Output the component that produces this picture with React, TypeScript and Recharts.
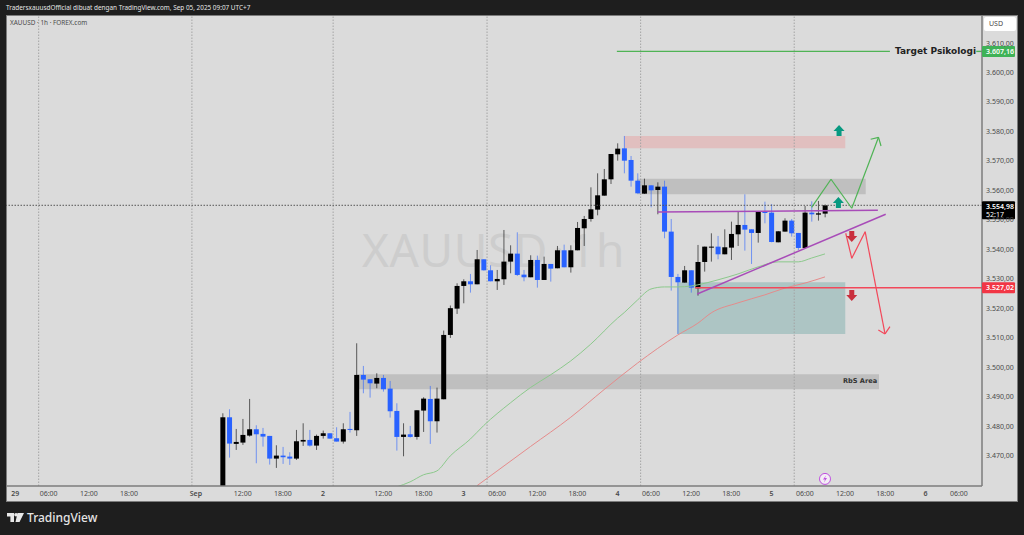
import { ComposedChart, Bar, Line, XAxis, YAxis, ReferenceArea, ReferenceLine, ReferenceDot } from 'recharts';

// ── Colours ───────────────────────────────────────────────────────────────────
const PAGE_BG = '#1e1e1e';
const PANEL_BG = '#dbdbdb';
const BORDER = '#7c7c7c';
const UP = '#000000';
const DOWN = '#2962ff';
const TEXT = '#4a4a4a';
const FONT = '"Noto Sans", sans-serif';
const GREEN = '#4fb355';
const RED = '#f2485a';
const PURPLE = '#a84cb8';
const TEAL_ARROW = '#089981';
const RED_ARROW = '#c9303e';

// ── Candles, one hourly bar per slot ──────────────────────────────────────────
const opens = [
  3452, 3483.1, 3474.07, 3474.52, 3476.89, 3479.04, 3477.46, 3476.78, 3469.09, 3470.11,
  3469.77, 3469.09, 3474.86, 3475.42, 3473.5, 3476.78, 3477.68, 3475.99, 3474.86, 3479.15,
  3478.7, 3497.46, 3495.99, 3494.52, 3496.44, 3492.82, 3485.25, 3476.44, 3477.34, 3476.44,
  3485.37, 3489.32, 3481.75, 3489.21, 3511.02, 3519.94, 3527.63, 3529.21, 3528.19, 3536.67,
  3532.94, 3529.21, 3529.89, 3535.88, 3538.59, 3531.47, 3530.57, 3536.44, 3529.66, 3535.09,
  3533.62, 3539.72, 3533.96, 3539.72, 3547.18, 3550.34, 3553.5, 3558.25, 3563.79, 3572.26,
  3574.29, 3570.34, 3563.33, 3558.93, 3561.75, 3560.17, 3561.3, 3546.05, 3530.68, 3528.76,
  3532.94, 3526.84, 3535.76, 3540.74, 3540.96, 3538.36, 3540.62, 3545.14, 3548.31, 3546.84,
  3545.6, 3552.83, 3552.49, 3542.43, 3546.05, 3549.78, 3545.6, 3540.51, 3552.49, 3551.81,
  3552.15,
];
const highs = [
  3484.46, 3485.82, 3479.15, 3482.54, 3489.32, 3480.39, 3479.49, 3476.78, 3473.61, 3473.05,
  3471.24, 3478.81, 3481.07, 3478.81, 3477.23, 3478.59, 3477.68, 3479.72, 3481.07, 3484.91,
  3508.19, 3500.51, 3495.99, 3498.02, 3497.46, 3495.42, 3487.85, 3481.07, 3480.17, 3485.48,
  3489.88, 3493.73, 3493.16, 3512.5, 3521, 3528.53, 3529.89, 3531.7, 3539.83, 3536.67,
  3534.63, 3533.05, 3546.61, 3541.41, 3545.82, 3533.05, 3538.03, 3537.91, 3537.57, 3535.09,
  3541.19, 3541.64, 3541.41, 3549.32, 3551.36, 3561.07, 3565.82, 3567.29, 3572.37, 3575.99,
  3578.48, 3571.7, 3565.82, 3564.01, 3561.75, 3562.77, 3563.33, 3550.34, 3531.7, 3534.41,
  3532.94, 3541.53, 3540.96, 3545.48, 3544.58, 3546.84, 3549.44, 3552.83, 3558.7, 3546.84,
  3553.05, 3556.2, 3555.42, 3546.27, 3550.57, 3550.34, 3545.6, 3554.75, 3556.33, 3556.44,
  3555.2,
];
const lows = [
  3450, 3469.43, 3472.03, 3473.73, 3476.55, 3467.51, 3473.16, 3467.06, 3465.93, 3467.29,
  3466.95, 3468.64, 3473.39, 3473.16, 3472.03, 3475.87, 3475.87, 3474.86, 3474.18, 3477.91,
  3476.78, 3491.24, 3489.77, 3492.94, 3491.8, 3483, 3471.8, 3469.88, 3476.21, 3475.53,
  3478.13, 3474.07, 3477.91, 3489.2, 3510, 3518.14, 3521.75, 3525.37, 3528.19, 3532.83,
  3529.21, 3526.27, 3527.97, 3531.92, 3531.02, 3529.21, 3530.57, 3527.06, 3529.66, 3529.1,
  3533.62, 3533.96, 3532.15, 3539.72, 3541.19, 3549.44, 3551.58, 3558.25, 3562.2, 3570.11,
  3565.82, 3561.3, 3559.04, 3558.81, 3554.3, 3551.92, 3543.79, 3526.05, 3511.36, 3528.76,
  3525.37, 3524.35, 3532.49, 3535.88, 3536.67, 3538.36, 3536.44, 3541.19, 3539.61, 3535.09,
  3542.32, 3548.87, 3542.43, 3542.43, 3546.05, 3544.35, 3539.83, 3540.4, 3549.44, 3549.78,
  3550.9,
];
const closes = [
  3483.1, 3474.18, 3474.74, 3477.12, 3479.04, 3477.34, 3476.55, 3469.09, 3470.11, 3469.55,
  3469.09, 3474.97, 3475.42, 3473.5, 3476.78, 3477.68, 3475.87, 3474.86, 3479.04, 3478.81,
  3497.46, 3495.87, 3494.63, 3496.44, 3492.6, 3485.14, 3476.44, 3477.23, 3476.44, 3485.48,
  3489.43, 3481.75, 3489.43, 3511.02, 3520.1, 3527.63, 3529.21, 3528.19, 3536.67, 3532.94,
  3529.21, 3530, 3535.88, 3538.59, 3531.36, 3530.57, 3536.44, 3529.66, 3535.09, 3533.5,
  3539.72, 3533.96, 3539.72, 3547.29, 3550.34, 3553.62, 3558.36, 3563.79, 3572.37, 3574.18,
  3570.11, 3563.33, 3559.04, 3561.75, 3560.06, 3561.3, 3546.05, 3530.68, 3528.87, 3532.94,
  3527.06, 3535.76, 3540.96, 3540.96, 3538.36, 3540.74, 3545.26, 3548.31, 3546.73, 3545.6,
  3552.83, 3552.37, 3542.54, 3546.16, 3549.78, 3545.48, 3540.51, 3552.49, 3551.92, 3552.26,
  3554.98,
];

// Moving averages, [bar, price]
const fastMa = [
  [26, 3459.5], [28, 3461.2], [30, 3463.6], [32, 3464.9], [34, 3470], [37, 3475.7], [39, 3480.3],
  [43, 3488], [46, 3493.2], [49, 3497.5], [52, 3502.2], [55, 3507.9], [59, 3516.7], [60, 3518.6],
  [62, 3522.9], [64, 3526.6], [66, 3527.3], [68, 3527.3], [70, 3527.6], [71, 3528], [74, 3529.7],
  [77, 3531.7], [80, 3534.1], [83, 3535.8], [86, 3535.8], [88, 3537.1], [90, 3538.5],
];
const slowMa = [
  [38, 3459.9], [46, 3473.2], [52, 3483.1], [57, 3492.5], [62, 3501.5], [68, 3511], [71, 3515],
  [73, 3518.5], [77, 3521.9], [81, 3524.6], [84, 3526.9], [87, 3528.6], [90, 3530.7],
];

const LAST_PRICE = 3554.98;
const RED_LEVEL = 3527.02;
const TARGET = 3607.16;

// ── Axes ──────────────────────────────────────────────────────────────────────
const X_DOMAIN = [-32.38, 113.46];
const Y_DOMAIN = [3459.8, 3619.5];
const priceTicks = [3470, 3480, 3490, 3500, 3510, 3520, 3530, 3540, 3550, 3560, 3570, 3580, 3590, 3600, 3610];
const timeBars = [-31, -26, -20, -14, -4, 3, 9, 15, 24, 30, 36, 41, 47, 53, 59, 64, 70, 76, 82, 87, 93, 99, 105, 110];
const timeLabels = ['29', '06:00', '12:00', '18:00', 'Sep', '12:00', '18:00', '2', '12:00', '18:00', '3', '06:00', '12:00', '18:00', '4', '06:00', '12:00', '18:00', '5', '06:00', '12:00', '18:00', '6', '06:00'];
const gridBars = [-27.5, -4.6, 16.5, 39.5, 62.45, 85.4];

// ── Drawings, in [bar, price] ─────────────────────────────────────────────────
const zones = [
  { x1: 60.04, x2: 93.03, y1: 3574.3, y2: 3578.47, fill: '#e8a3a3', opacity: 0.5 },
  { x1: 61.9, x2: 96.08, y1: 3558.7, y2: 3564, fill: '#a8a8a8', opacity: 0.55 },
  { x1: 67.93, x2: 93.03, y1: 3511.36, y2: 3528.88, fill: '#7fb0ae', opacity: 0.5 },
  { x1: 20.07, x2: 98.07, y1: 3492.6, y2: 3497.7, fill: '#a8a8a8', opacity: 0.55 },
];
const greenPath = [[88, 3554.3], [90.9, 3563.8], [94, 3553.97], [98, 3578.03]];
const greenHead = [[96.83, 3577.36], [98, 3578.03], [98.37, 3575.08]];
const redPath = [[93.1, 3545.5], [94, 3537], [96, 3546.03], [98.97, 3511.36]];
const redHead = [[97.97, 3512.7], [98.97, 3511.36], [99.7, 3513.83]];
const purpleFlat = [[65, 3552.71], [97.9, 3553.29]];
const purpleRise = [[70.9, 3524.9], [99.07, 3551.93]];
const targetLine = [[58.9, TARGET], [99.7, TARGET]];
const targetStub = [[112.6, TARGET], [113.46, TARGET]];
const redLevelLine = [[70.6, RED_LEVEL], [113.46, RED_LEVEL]];
const upArrows = [[92.1, 3580.17], [92, 3555.76]];
const downArrows = [[94, 3544.58], [94, 3524.58]];

const table = opens.map((open, bar) => ({
  bar,
  open,
  high: highs[bar],
  low: lows[bar],
  close: closes[bar],
  range: [lows[bar], highs[bar]],
  fast: fastMa.find((p) => p[0] === bar)?.[1] ?? null,
  slow: slowMa.find((p) => p[0] === bar)?.[1] ?? null,
}));

const priceLabel = (v: number) =>
  v.toFixed(2).replace('.', ',').replace(/^(\d)(\d{3})/, '$1.$2');

function Candle(props: any) {
  const { x, y, width, height, payload } = props;
  const { open, close, high, low } = payload;
  const k = Math.abs(height) / (high - low);
  const top = y + (high - Math.max(open, close)) * k;
  const bottom = y + (high - Math.min(open, close)) * k;
  const color = close >= open ? UP : DOWN;
  const mid = x + width / 2;
  return (
    <g>
      <line x1={mid} x2={mid} y1={y} y2={y + Math.abs(height)} stroke={color} strokeOpacity={0.6} />
      <rect x={x} y={top} width={width} height={Math.max(bottom - top, 1)} fill={color} />
    </g>
  );
}

function ArrowMark({ cx, cy, up, color }: any) {
  const d = up ? -1 : 1;
  const points = [
    [cx - 2.5, cy - 5 * d], [cx + 2.5, cy - 5 * d], [cx + 2.5, cy],
    [cx + 5.5, cy], [cx, cy + 6 * d], [cx - 5.5, cy], [cx - 2.5, cy],
  ];
  return <polygon points={points.map((p) => p.join(',')).join(' ')} fill={color} />;
}

function PriceTag({ cx, cy, color, text, sub }: any) {
  const h = sub ? 18 : 11;
  const top = sub ? cy - 4 : cy - 5.5;
  return (
    <g fontFamily={FONT} fontSize={7} fill="#fff" fontWeight={600}>
      <rect x={cx} y={top} width={33} height={h} fill={color} rx={1} />
      <text x={cx + 4} y={top + 8}>{text}</text>
      {sub && <text x={cx + 4} y={top + 15.5} fontWeight={400}>{sub}</text>}
    </g>
  );
}

function BoltBadge({ cx, cy }: any) {
  return (
    <g>
      <circle cx={cx} cy={cy} r={5.5} fill="#f4eef6" stroke="#c050e0" />
      <path d={`M${cx + 1} ${cy - 3.5}L${cx - 2} ${cy + 0.5}H${cx}L${cx - 1} ${cy + 3.5}L${cx + 2} ${cy - 1}H${cx}Z`} fill="#c050e0" />
    </g>
  );
}

function TimeTick({ x, y, payload }: any) {
  const label = timeLabels[timeBars.indexOf(payload.value)];
  const bold = !label.includes(':');
  return (
    <text x={x} y={y + 8} textAnchor="middle" fontFamily={FONT} fontSize={7} fill={TEXT} fontWeight={bold ? 600 : 400}>
      {label}
    </text>
  );
}

// ReferenceLine has to be a direct child of the chart, so paths are spread as arrays
const segments = (pts: number[][], color: string, width: number, key: string) =>
  pts.slice(1).map((p, i) => (
    <ReferenceLine
      key={`${key}-${i}`}
      segment={[{ x: pts[i][0], y: pts[i][1] }, { x: p[0], y: p[1] }]}
      stroke={color}
      strokeWidth={width}
      ifOverflow="visible"
    />
  ));

export default function App() {
  return (
    <div style={{ position: 'absolute', left: 0, top: 0, width: 1024, height: 535, background: PAGE_BG, overflow: 'hidden', fontFamily: FONT }}>
      <div style={{ position: 'absolute', left: 6, top: 3, fontSize: 6.4, color: '#e6e6e6', whiteSpace: 'nowrap' }}>
        TradersxauusdOfficial dibuat dengan TradingView.com, Sep 05, 2025 09:07 UTC+7
      </div>
      <div style={{ position: 'absolute', left: 6, top: 15, width: 1012, height: 487, boxSizing: 'border-box', background: PANEL_BG, border: `1px solid ${BORDER}` }} />
      <div style={{ position: 'absolute', left: 10, top: 18, fontSize: 6.4, color: TEXT, whiteSpace: 'nowrap' }}>
        XAUUSD · 1h · FOREX.com
      </div>
      <div style={{ position: 'absolute', left: 362, top: 219, fontSize: 46, lineHeight: '60px', letterSpacing: 0.6, wordSpacing: -8.5, color: '#cdcdcd', whiteSpace: 'nowrap' }}>
        XAUUSD · 1h
      </div>

      <div style={{ position: 'absolute', left: 0, top: 0 }}>
        <ComposedChart
          width={1024}
          height={535}
          data={table}
          margin={{ top: 15, right: 6, bottom: 34, left: 6 }}
        >
          <XAxis
            dataKey="bar"
            type="number"
            domain={X_DOMAIN}
            allowDataOverflow
            ticks={timeBars}
            interval={0}
            height={15}
            tickLine={false}
            tickSize={0}
            axisLine={{ stroke: BORDER, strokeWidth: 1.5 }}
            tick={<TimeTick />}
          />
          <YAxis
            orientation="right"
            domain={Y_DOMAIN}
            allowDataOverflow
            ticks={priceTicks}
            interval={0}
            width={36}
            tickLine={false}
            tickSize={0}
            tickMargin={4}
            axisLine={{ stroke: BORDER, strokeWidth: 1.5 }}
            tick={{ fontSize: 7, fontFamily: FONT, fill: TEXT }}
            tickFormatter={priceLabel}
          />

          {gridBars.map((g) => (
            <ReferenceLine key={g} x={g} stroke="#a4a4a4" strokeDasharray="1.5 1.5" />
          ))}
          {zones.map((z) => (
            <ReferenceArea key={z.x1} x1={z.x1} x2={z.x2} y1={z.y1} y2={z.y2} fill={z.fill} fillOpacity={z.opacity} stroke="none" />
          ))}

          <Bar dataKey="range" barSize={5} shape={<Candle />} isAnimationActive={false} />
          <Line type="monotone" dataKey="fast" stroke="#8cc98c" strokeWidth={1} dot={false} connectNulls isAnimationActive={false} />
          <Line type="monotone" dataKey="slow" stroke="#e58b8b" strokeWidth={1} dot={false} connectNulls isAnimationActive={false} />

          <ReferenceLine y={LAST_PRICE} stroke="#555" strokeDasharray="1.5 1.5" />
          {segments(targetLine, GREEN, 1.4, 'target')}
          {segments(targetStub, GREEN, 1.4, 'stub')}
          {segments(greenPath, GREEN, 1.2, 'green')}
          {segments(greenHead, GREEN, 1.2, 'greenHead')}
          {segments(redPath, RED, 1.2, 'red')}
          {segments(redHead, RED, 1.2, 'redHead')}
          {segments(redLevelLine, RED, 1.5, 'level')}
          {segments(purpleFlat, PURPLE, 1.5, 'flat')}
          {segments(purpleRise, PURPLE, 1.5, 'rise')}

          {upArrows.map((a) => (
            <ReferenceDot key={a[1]} x={a[0]} y={a[1]} ifOverflow="visible" shape={(p: any) => <ArrowMark {...p} up color={TEAL_ARROW} />} />
          ))}
          {downArrows.map((a) => (
            <ReferenceDot key={a[1]} x={a[0]} y={a[1]} ifOverflow="visible" shape={(p: any) => <ArrowMark {...p} color={RED_ARROW} />} />
          ))}
          <ReferenceDot x={90} y={3462.2} ifOverflow="visible" shape={(p: any) => <BoltBadge {...p} />} />

          <ReferenceDot x={X_DOMAIN[1]} y={TARGET} ifOverflow="visible" shape={(p: any) => <PriceTag {...p} color="#3fb257" text={priceLabel(TARGET)} />} />
          <ReferenceDot x={X_DOMAIN[1]} y={RED_LEVEL} ifOverflow="visible" shape={(p: any) => <PriceTag {...p} color="#f23645" text={priceLabel(RED_LEVEL)} />} />
          <ReferenceDot x={X_DOMAIN[1]} y={LAST_PRICE} ifOverflow="visible" shape={(p: any) => <PriceTag {...p} color="#000" text={priceLabel(LAST_PRICE)} sub="52:17" />} />
        </ComposedChart>
      </div>

      <div style={{ position: 'absolute', left: 895, top: 45, fontFamily: '"DejaVu Sans", sans-serif', fontWeight: 700, fontSize: 9, lineHeight: '13px', color: '#222', whiteSpace: 'nowrap' }}>
        Target Psikologi
      </div>
      <div style={{ position: 'absolute', left: 843, top: 376, fontFamily: '"DejaVu Sans", sans-serif', fontWeight: 700, fontSize: 6.6, lineHeight: '10px', color: '#333', whiteSpace: 'nowrap' }}>
        RbS Area
      </div>
      <div style={{ position: 'absolute', left: 984, top: 17, width: 32, height: 14, background: '#fff', borderRadius: 2, fontSize: 7, lineHeight: '14px', color: TEXT, paddingLeft: 5, boxSizing: 'border-box' }}>
        USD
      </div>

      <svg style={{ position: 'absolute', left: 7, top: 513 }} width={17} height={10} viewBox="0 0 17 10">
        <path d="M0 0H7V9H3.4V3.4H0Z M10.5 0H17L12.5 9H8.5Z" fill="#e8e8e8" />
        <circle cx={9} cy={1.8} r={1.8} fill="#e8e8e8" />
      </svg>
      <div style={{ position: 'absolute', left: 27, top: 510, fontSize: 12, lineHeight: '16px', fontWeight: 500, color: '#e4e4e4', whiteSpace: 'nowrap' }}>
        TradingView
      </div>
    </div>
  );
}
